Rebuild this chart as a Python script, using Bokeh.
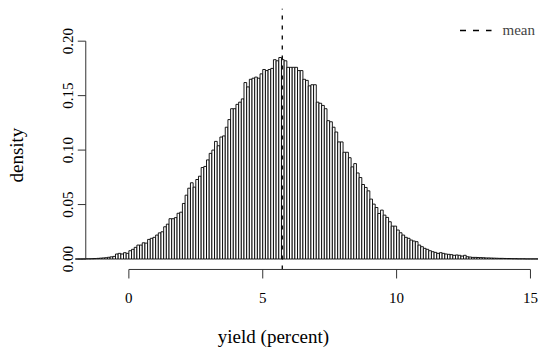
import math
from bokeh.plotting import figure
from bokeh.models import Range1d, FixedTicker, Legend, LegendItem
from bokeh.core.properties import value
from bokeh.embed import file_html
from bokeh.resources import INLINE

# ---- data ----
bin_start = -2.0
bin_width = 0.1
density = [
    0.0000, 0.0000, 0.0000, 0.0001, 0.0002, 0.0002, 0.0003, 0.0004, 0.0006, 0.0008,  # -2.0 .. -1.1
    0.0010, 0.0012, 0.0016, 0.0020, 0.0024, 0.0046, 0.0052, 0.0046, 0.0058, 0.0052,  # -1.0 .. -0.1
    0.0076, 0.0089, 0.0107, 0.0128, 0.0128, 0.0149, 0.0146, 0.0180, 0.0190, 0.0199,  # 0.0 .. 0.9
    0.0220, 0.0240, 0.0250, 0.0296, 0.0320, 0.0370, 0.0370, 0.0380, 0.0420, 0.0430,  # 1.0 .. 1.9
    0.0510, 0.0586, 0.0650, 0.0700, 0.0660, 0.0730, 0.0760, 0.0840, 0.0850, 0.0910,  # 2.0 .. 2.9
    0.0970, 0.1000, 0.1080, 0.1040, 0.1120, 0.1130, 0.1210, 0.1280, 0.1380, 0.1380,  # 3.0 .. 3.9
    0.1420, 0.1440, 0.1470, 0.1620, 0.1580, 0.1650, 0.1660, 0.1670, 0.1660, 0.1700,  # 4.0 .. 4.9
    0.1740, 0.1730, 0.1740, 0.1750, 0.1830, 0.1820, 0.1850, 0.1830, 0.1820, 0.1760,  # 5.0 .. 5.9
    0.1760, 0.1760, 0.1760, 0.1730, 0.1730, 0.1650, 0.1640, 0.1590, 0.1600, 0.1600,  # 6.0 .. 6.9
    0.1440, 0.1430, 0.1410, 0.1380, 0.1270, 0.1260, 0.1210, 0.1166, 0.1075, 0.1075,  # 7.0 .. 7.9
    0.0980, 0.0980, 0.0930, 0.0846, 0.0876, 0.0790, 0.0748, 0.0684, 0.0657, 0.0626,  # 8.0 .. 8.9
    0.0550, 0.0504, 0.0473, 0.0418, 0.0449, 0.0403, 0.0382, 0.0342, 0.0302, 0.0302,  # 9.0 .. 9.9
    0.0266, 0.0241, 0.0220, 0.0199, 0.0190, 0.0174, 0.0165, 0.0159, 0.0128, 0.0113,  # 10.0 .. 10.9
    0.0098, 0.0089, 0.0076, 0.0067, 0.0061, 0.0052, 0.0058, 0.0052, 0.0046, 0.0043,  # 11.0 .. 11.9
    0.0040, 0.0034, 0.0037, 0.0034, 0.0027, 0.0034, 0.0021, 0.0018, 0.0015, 0.0015,  # 12.0 .. 12.9
    0.0014, 0.0013, 0.0012, 0.0010, 0.0010, 0.0009, 0.0008, 0.0007, 0.0006, 0.0006,  # 13.0 .. 13.9
    0.0005, 0.0004, 0.0004, 0.0003, 0.0003, 0.0002, 0.0002, 0.0002, 0.0001, 0.0001,  # 14.0 .. 14.9
    0.0001, 0.0001, 0.0001,                                                          # 15.0 .. 15.2
]
mean_yield = 5.73
x_ticks = [0, 5, 10, 15]
x_tick_labels = ["0", "5", "10", "15"]
y_ticks = [0.00, 0.05, 0.10, 0.15, 0.20]
y_tick_labels = ["0.00", "0.05", "0.10", "0.15", "0.20"]
x_label = "yield (percent)"
y_label = "density"
legend_label = "mean"

lefts = [bin_start + i * bin_width for i in range(len(density))]
rights = [l + bin_width for l in lefts]
bottoms = [0.0] * len(density)

FONT = "Liberation Serif"
FS = "15px"
FS_TITLE = "19px"
AXIS_COLOR = "#333333"

# R-style plotting region (axes drawn at its edges, inside the Bokeh frame)
region_left = -1.61      # where the y axis sits
region_bottom = -0.0096  # where the x axis sits
x_range = Range1d(-4.496, 15.30)
y_range = Range1d(-0.0436, 0.2300)

p = figure(width=538, height=349, output_backend="svg", toolbar_location=None,
           x_range=x_range, y_range=y_range,
           min_border_left=8, min_border_right=0, min_border_top=8, min_border_bottom=43)
p.outline_line_color = None
p.grid.visible = False
p.background_fill_color = "white"
p.border_fill_color = "white"
p.yaxis.visible = False

p.quad(left=lefts, right=rights, bottom=bottoms, top=density,
       fill_color="white", line_color="black", line_width=0.9)

# mean line across the plotting region
p.line(x=[mean_yield, mean_yield], y=[region_bottom, y_range.end],
       line_color="black", line_width=1.3, line_dash="4 6")
# legend key for the mean (zero-length, only its legend swatch shows)
key_r = p.line(x=[mean_yield, mean_yield], y=[0, 0],
               line_color="black", line_width=1.3, line_dash="6 7")

legend = Legend(items=[LegendItem(label=legend_label, renderers=[key_r])],
                location="top_right", border_line_alpha=0, background_fill_alpha=0,
                glyph_width=32, glyph_height=38, label_height=38, label_standoff=11,
                padding=0, margin=3, spacing=0,
                label_text_font=FONT, label_text_font_size=FS)
p.add_layout(legend)

# axis lines and tick marks (R style: only spanning first..last tick)
x_tick_len = 9 / 1089.0
y_tick_len = 8 / 26.77
p.line(x=[x_ticks[0], x_ticks[-1]], y=[region_bottom, region_bottom],
       line_color=AXIS_COLOR, line_width=1)
p.line(x=[region_left, region_left], y=[y_ticks[0], y_ticks[-1]],
       line_color=AXIS_COLOR, line_width=1)
p.multi_line(xs=[[t, t] for t in x_ticks],
             ys=[[region_bottom, region_bottom - x_tick_len] for _ in x_ticks],
             line_color=AXIS_COLOR, line_width=1)
p.multi_line(xs=[[region_left, region_left - y_tick_len] for _ in y_ticks],
             ys=[[t, t] for t in y_ticks],
             line_color=AXIS_COLOR, line_width=1)

# tick labels
p.text(x=x_ticks, y=[region_bottom] * len(x_ticks), text=x_tick_labels,
       y_offset=29, text_align="center", text_baseline="middle",
       text_font=value(FONT), text_font_size=value(FS), text_color="black")
p.text(x=[region_left] * len(y_ticks), y=y_ticks, text=y_tick_labels,
       angle=math.pi / 2, x_offset=-18, text_align="center", text_baseline="middle",
       text_font=value(FONT), text_font_size=value(FS), text_color="black")

# y axis title
p.text(x=[region_left], y=[(y_ticks[0] + y_ticks[-1]) / 2], text=[y_label],
       angle=math.pi / 2, x_offset=-69, y_offset=5, text_align="center",
       text_baseline="middle", text_font=value(FONT), text_font_size=value(FS_TITLE),
       text_color="black")

# default below axis: carries only the x axis title
xt = p.xaxis[0]
xt.ticker = FixedTicker(ticks=[])
xt.axis_line_color = None
xt.major_tick_line_color = None
xt.minor_tick_line_color = None
xt.major_tick_out = 0
xt.major_tick_in = 0
xt.major_label_standoff = 0
xt.axis_label = x_label
xt.axis_label_standoff = 19
xt.axis_label_text_font = FONT
xt.axis_label_text_font_size = FS_TITLE
xt.axis_label_text_font_style = "normal"
xt.axis_label_text_color = "black"

open("out.html", "w").write(file_html(p, INLINE))
